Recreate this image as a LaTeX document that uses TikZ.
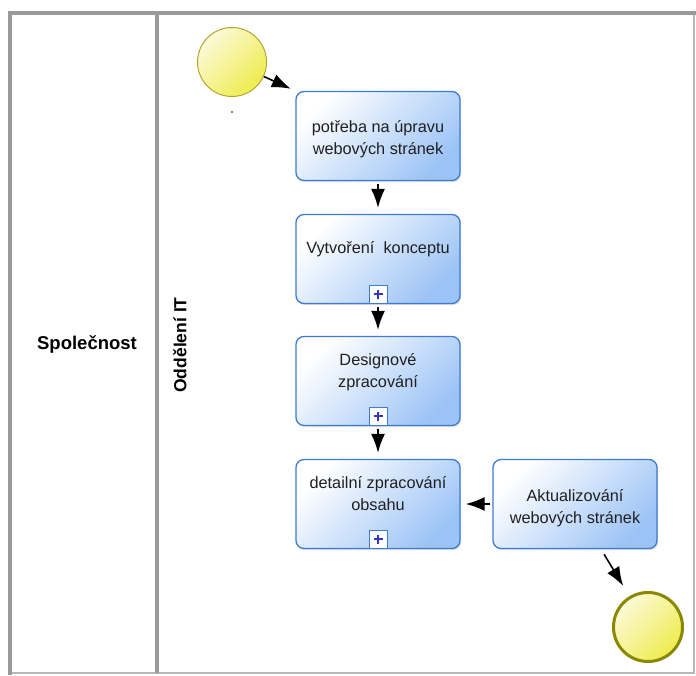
\documentclass[tikz,border=0pt]{standalone}
\usepackage{fontspec}
\setmainfont{Liberation Sans}
\usetikzlibrary{arrows.meta,calc,shadows}

\definecolor{lanegray}{HTML}{9A9A9A}
\definecolor{lanelight}{HTML}{B8B8B8}
\definecolor{taskblue}{HTML}{3D7BD4}
\definecolor{taskfill}{HTML}{9CC3F6}
\definecolor{eventfill}{HTML}{EFEC4E}
\definecolor{eventlight}{HTML}{FBFAD8}
\definecolor{startline}{HTML}{B3A630}
\definecolor{endline}{HTML}{8A8800}
\definecolor{plusblue}{HTML}{3535C0}
\definecolor{textgray}{HTML}{202020}

\tikzset{
  task/.style={draw=taskblue, line width=1.3pt, rounded corners=8pt,
    minimum width=164pt, minimum height=89pt, inner sep=0pt,
    top color=white, bottom color=taskfill, shading angle=45,
    drop shadow={shadow xshift=1.2pt, shadow yshift=-1.5pt, opacity=0.25}},
  tasktext/.style={align=center, text=textgray,
    font=\fontsize{16.3}{22}\selectfont},
  lanetext/.style={font=\fontsize{18.5}{20}\selectfont\bfseries, text=black},
  event/.style={circle, minimum size=69pt, inner sep=0pt,
    top color=eventlight, bottom color=eventfill, shading angle=45},
  startevent/.style={event, draw=startline, line width=1pt},
  endevent/.style={event, draw=endline, line width=3pt},
  submark/.style={draw=taskblue, fill=white, line width=1pt,
    minimum size=18pt, inner sep=0pt, anchor=south},
  plusmark/.style={plusblue, line width=1.5pt},
  flow/.style={-{Latex[length=19pt,width=14pt]}, line width=1.6pt, black},
}

\begin{document}
\begin{tikzpicture}[x=1pt,y=-1pt]
\useasboundingbox (0,0) rectangle (696,675);
\fill[white] (0,0) rectangle (696,675);

% pool frame with two lanes
\draw[lanelight, line width=2pt] (10,13) -- (694,13) -- (694,673) -- (10,673);
\draw[lanegray, line width=4pt] (10,675) -- (10,13) -- (696,13);
\draw[lanegray, line width=4pt] (157,13) -- (157,673);
\node[lanetext] (lane1) at (87,345) {Společnost};
\node[lanetext, font=\fontsize{17.5}{20}\selectfont\bfseries, rotate=90]
  (lane2) at (180,345) {Oddělení IT};

% events
\node[startevent] (start) at (232,62) {};
\fill[black] (232,112) circle (0.8pt);
\node[endevent] (end) at (648,627) {};

% tasks
\node[task] (t1) at (378,136) {};
\node[tasktext] (l1) at (378,139) {potřeba na úpravu\\webových stránek};

\node[task] (t2) at (378,259) {};
\node[tasktext] (l2) at (378,249) {Vytvoření\ \ konceptu};
\node[submark] (m2) at ([yshift=0.5pt]t2.south) {};

\node[task] (t3) at (378,381) {};
\node[tasktext] (l3) at (378,372) {Designové\\zpracování};
\node[submark] (m3) at ([yshift=0.5pt]t3.south) {};

\node[task] (t4) at (378,504) {};
\node[tasktext] (l4) at (378,494) {detailní zpracování\\obsahu};
\node[submark] (m4) at ([yshift=0.5pt]t4.south) {};

\node[task] (t5) at (575,504) {};
\node[tasktext] (l5) at (575,508) {Aktualizování\\webových stránek};

% collapsed sub-process markers
\foreach \m in {m2,m3,m4}{
  \draw[plusmark] ([xshift=-4.5pt]\m.center) -- ([xshift=4.5pt]\m.center);
  \draw[plusmark] ([yshift=-4.5pt]\m.center) -- ([yshift=4.5pt]\m.center);
}

% sequence flows
\draw[flow, shorten >=5pt] (start) -- (t1.north west);
\draw[flow, shorten <=3pt, shorten >=6pt] (t1.south) -- (t2.north);
\draw[flow, shorten <=3pt, shorten >=6pt] (t2.south) -- (t3.north);
\draw[flow, shorten <=3pt, shorten >=6pt] (t3.south) -- (t4.north);
\draw[flow, shorten <=2pt, shorten >=5pt] (t5.west) -- (t4.east);
\coordinate (t5out) at ([xshift=26pt]t5.south);
\draw[flow, shorten <=6pt, shorten >=12pt] (t5out) -- (end);
\end{tikzpicture}
\end{document}
